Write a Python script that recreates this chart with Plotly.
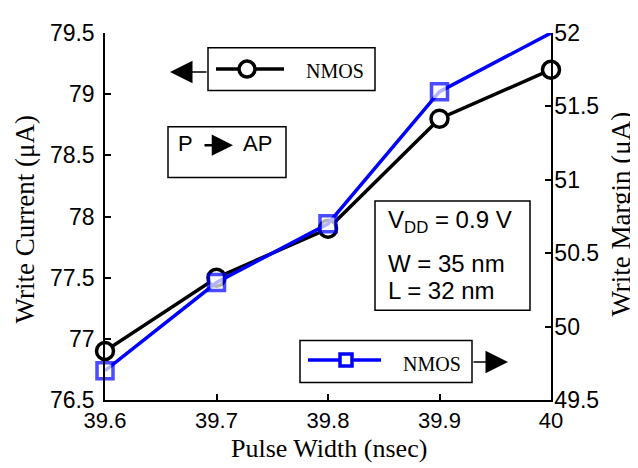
import plotly.graph_objects as go

# ---- data ----
pulse_width = [39.6, 39.7, 39.8, 39.9, 40.0]
write_current = [76.9, 77.5, 77.9, 78.8, 79.2]      # left axis (uA)
write_margin = [49.7, 50.3, 50.7, 51.6, 52.0]       # right axis (uA)

x_ticks = [39.6, 39.7, 39.8, 39.9, 40.0]
x_ticktext = ["39.6", "39.7", "39.8", "39.9", "40"]
y1_ticks = [76.5, 77.0, 77.5, 78.0, 78.5, 79.0, 79.5]
y1_ticktext = ["76.5", "77", "77.5", "78", "78.5", "79", "79.5"]
y2_ticks = [49.5, 50.0, 50.5, 51.0, 51.5, 52.0]
y2_ticktext = ["49.5", "50", "50.5", "51", "51.5", "52"]

# page has an 8px body margin -> shrink the figure and shift by 8px
OFF = 8
W, H = 638 - OFF, 468 - OFF
L, T = 105 - OFF, 24 - OFF
PW, PH = 446, 376
R, B = W - L - PW, H - T - PH
PLOT_LEFT, PLOT_BOTTOM = 105, 400   # page pixels


def px(x):
    return (x - PLOT_LEFT) / PW


def py(y):
    return (PLOT_BOTTOM - y) / PH


SERIF = "Liberation Serif"
SANS = "Liberation Sans"

fig = go.Figure()
fig.add_trace(go.Scatter(
    x=pulse_width, y=write_current, mode="lines+markers", name="NMOS",
    line=dict(color="black", width=3.5),
    marker=dict(symbol="circle", size=17, color="white",
                line=dict(color="black", width=3.5)),
    cliponaxis=False, showlegend=False))
fig.add_trace(go.Scatter(
    x=pulse_width, y=write_margin, mode="lines+markers", name="NMOS",
    yaxis="y2",
    line=dict(color="#0000ff", width=3.5),
    marker=dict(symbol="square", size=[16, 16, 16, 16, 0], color="white",
                line=dict(color="#0000ff", width=3.5)),
    cliponaxis=False, showlegend=False))

axis_common = dict(showline=True, linecolor="black", linewidth=1.5,
                   ticks="inside", ticklen=6, tickwidth=1.5, tickcolor="black",
                   showgrid=False, zeroline=False)

fig.update_layout(
    width=W, height=H,
    margin=dict(l=L, r=R, t=T, b=B, pad=0),
    paper_bgcolor="white", plot_bgcolor="white",
    xaxis=dict(range=[39.6, 40.0], tickvals=x_ticks, ticktext=x_ticktext,
               tickfont=dict(family=SANS, size=22, color="black"),
               **axis_common),
    yaxis=dict(range=[76.5, 79.5], tickvals=y1_ticks, ticktext=y1_ticktext,
               tickfont=dict(family=SANS, size=23, color="black"),
               ticklabelstandoff=4, **axis_common),
    yaxis2=dict(range=[49.5, 52.0], tickvals=y2_ticks, ticktext=y2_ticktext,
                overlaying="y", side="right",
                tickfont=dict(family=SANS, size=23, color="black"),
                ticklabelstandoff=-3, **axis_common),
)

shapes = []
ann = []


def box(x0, y0, x1, y1):
    shapes.append(dict(type="rect", xref="paper", yref="paper",
                       x0=px(x0), x1=px(x1), y0=py(y1), y1=py(y0),
                       line=dict(color="black", width=1.5), fillcolor="white"))


def text(x, y, s, size, family, xanchor="center", angle=0):
    ann.append(dict(xref="paper", yref="paper", x=px(x), y=py(y), text=s,
                    showarrow=False, xanchor=xanchor, yanchor="middle",
                    textangle=angle,
                    font=dict(family=family, size=size, color="black")))


def arrow(tipx, tipy, tailx, taily, width=1.5, size=3.0):
    ann.append(dict(xref="paper", yref="paper", x=px(tipx), y=py(tipy),
                    ax=tailx - tipx, ay=taily - tipy, text="",
                    showarrow=True, arrowhead=2, arrowsize=size,
                    arrowwidth=width, arrowcolor="black"))


# legend 1 (black, left axis)
box(208, 39, 375, 83)
shapes.append(dict(type="line", xref="paper", yref="paper",
                   x0=px(216), x1=px(284), y0=py(61), y1=py(61),
                   line=dict(color="black", width=3.5)))
shapes.append(dict(type="circle", xref="paper", yref="paper",
                   xsizemode="pixel", ysizemode="pixel",
                   xanchor=px(247), yanchor=py(61),
                   x0=-8, x1=8, y0=-8, y1=8,
                   line=dict(color="black", width=3.5), fillcolor="white"))
text(335, 63, "NMOS", 20, SERIF)
arrow(170, 64, 208, 64)

# legend 2 (blue, right axis)
box(300, 339, 472, 382)
shapes.append(dict(type="line", xref="paper", yref="paper",
                   x0=px(308), x1=px(381), y0=py(359), y1=py(359),
                   line=dict(color="#0000ff", width=3.5)))
shapes.append(dict(type="rect", xref="paper", yref="paper",
                   xsizemode="pixel", ysizemode="pixel",
                   xanchor=px(346), yanchor=py(359),
                   x0=-6, x1=6, y0=-6, y1=6,
                   line=dict(color="#0000ff", width=3.5), fillcolor="white"))
text(432, 363, "NMOS", 20, SERIF)
arrow(508, 361, 472, 361)

# P -> AP box
box(168, 120, 286, 172)
text(185, 137, "P", 22, SANS)
text(257, 137, "AP", 22, SANS)
arrow(233, 139, 203, 139, width=2.5, size=1.7)

# conditions box
box(375, 196, 530, 308)
text(386, 217, "V<sub>DD</sub> = 0.9 V", 24, SANS, xanchor="left")
text(386, 260, "W = 35 nm", 24, SANS, xanchor="left")
text(386, 288, "L = 32 nm", 24, SANS, xanchor="left")

# axis titles
text(329, 450, "Pulse Width (nsec)", 26, SERIF)
text(25, 215, "Write Current (\u03bcA)", 27, SERIF, angle=-90)
text(621, 210, "Write Margin (\u03bcA)", 27, SERIF, angle=-90)

fig.update_layout(shapes=shapes, annotations=ann)
fig.write_html("out.html")
